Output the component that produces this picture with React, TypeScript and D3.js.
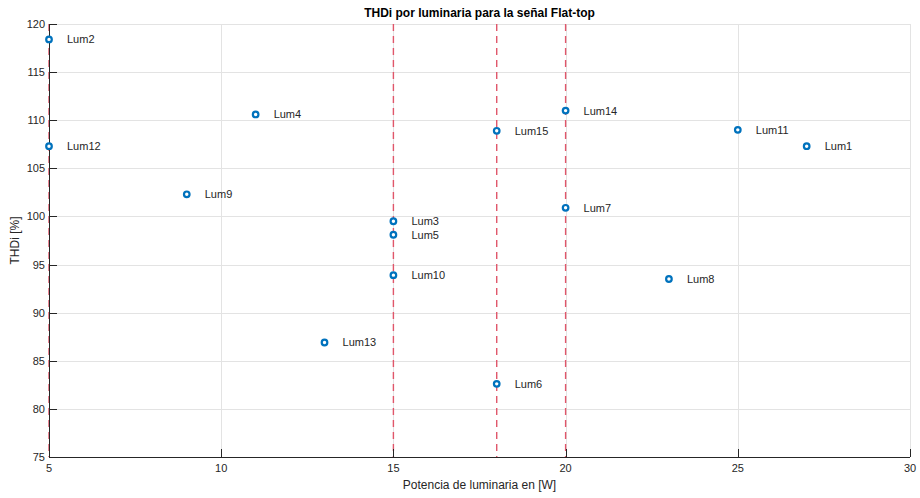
import React from "react";
import * as d3 from "d3";

const labels = ["Lum1","Lum2","Lum3","Lum4","Lum5","Lum6","Lum7","Lum8","Lum9","Lum10","Lum11","Lum12","Lum13","Lum14","Lum15"];
const power = [27, 5, 15, 11, 15, 18, 20, 23, 9, 15, 25, 5, 13, 20, 18];
const thdi = [107.3, 118.4, 99.5, 110.6, 98.1, 82.6, 100.9, 93.5, 102.3, 93.9, 109.0, 107.3, 86.9, 111.0, 108.9];
const refLines = [5, 15, 18, 20];
const xTicks = [5, 10, 15, 20, 25, 30];
const yTicks = [75, 80, 85, 90, 95, 100, 105, 110, 115, 120];

const W = 920, H = 498;
const L = 49, R = 910, T = 24, B = 457;

export default function App() {
  const x = d3.scaleLinear().domain([5, 30]).range([L, R]);
  const y = d3.scaleLinear().domain([75, 120]).range([B, T]);
  const font = "Liberation Sans, Arial, Helvetica, sans-serif";
  const tc = "#262626";
  const px = (v: number) => Math.round(x(v)) + 0.5;
  const py = (v: number) => Math.round(y(v)) + 0.5;
  return (
    <svg width={W} height={H} style={{ position: "absolute", left: 0, top: 0, background: "#fff" }} fontFamily={font}>
      <rect x={0} y={0} width={W} height={H} fill="#fff" />
      {xTicks.map((t) => (
        <line key={"gx" + t} x1={px(t)} x2={px(t)} y1={T} y2={B} stroke="#e3e3e3" strokeWidth={1} />
      ))}
      {yTicks.map((t) => (
        <line key={"gy" + t} x1={L} x2={R} y1={py(t)} y2={py(t)} stroke="#e3e3e3" strokeWidth={1} />
      ))}
      {refLines.map((v) => (
        <line key={"r" + v} x1={x(v)} x2={x(v)} y1={T} y2={B} stroke="#e0566a" strokeWidth={1.4} strokeDasharray="7,5" />
      ))}
      <line x1={L + 0.5} x2={L + 0.5} y1={T} y2={B} stroke={tc} strokeWidth={1} />
      <line x1={L} x2={R} y1={B + 0.5} y2={B + 0.5} stroke={tc} strokeWidth={1} />
      {xTicks.map((t) => (
        <g key={"xt" + t}>
          <line x1={px(t)} x2={px(t)} y1={B} y2={B - 8} stroke={tc} />
          <text x={x(t)} y={B + 15} textAnchor="middle" fontSize={11} fill={tc}>{t}</text>
        </g>
      ))}
      {yTicks.map((t) => (
        <g key={"yt" + t}>
          <line x1={L} x2={L + 8} y1={py(t)} y2={py(t)} stroke={tc} />
          <text x={L - 4} y={y(t) + 4} textAnchor="end" fontSize={11} fill={tc}>{t}</text>
        </g>
      ))}
      {power.map((p, i) => (
        <g key={labels[i]}>
          <circle cx={x(p)} cy={y(thdi[i])} r={2.8} fill="#fff" stroke="#0072BD" strokeWidth={2.2} />
          <text x={x(p) + 18} y={y(thdi[i]) + 4} fontSize={11} fill={tc}>{labels[i]}</text>
        </g>
      ))}
      <text x={(L + R) / 2} y={17} textAnchor="middle" fontSize={12} fontWeight="bold" fill="#000">THDi por luminaria para la señal Flat-top</text>
      <text x={(L + R) / 2} y={489} textAnchor="middle" fontSize={12} fill={tc}>Potencia de luminaria en [W]</text>
      <text transform={`translate(19, ${(T + B) / 2}) rotate(-90)`} textAnchor="middle" fontSize={12} fill={tc}>THDi [%]</text>
    </svg>
  );
}
